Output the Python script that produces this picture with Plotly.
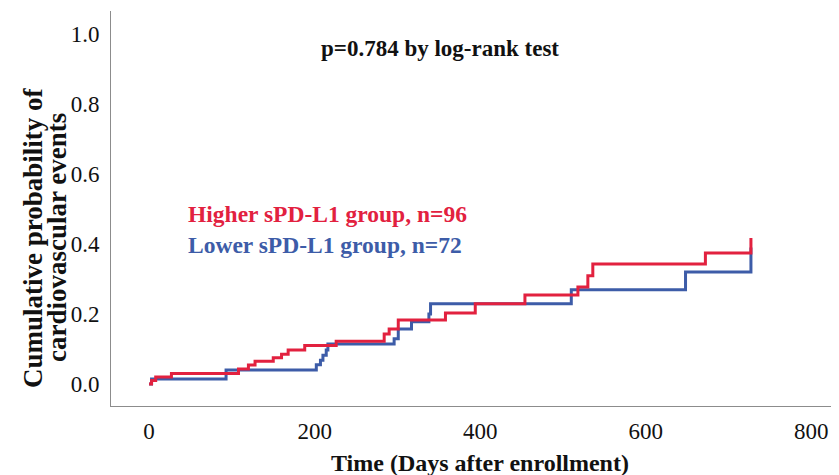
import plotly.graph_objects as go

# Data (Kaplan-Meier cumulative incidence, step curves)
higher_days = [0, 3, 8, 27, 108, 120, 128, 150, 160, 168, 188, 226, 284, 290, 301, 358, 394, 454, 518, 530, 536, 672, 727]
higher_prob = [0, 0.010, 0.020, 0.030, 0.043, 0.054, 0.065, 0.075, 0.085, 0.097, 0.110, 0.122, 0.143, 0.157, 0.183, 0.203, 0.229, 0.254, 0.277, 0.309, 0.343, 0.374, 0.417]

lower_days = [0, 3, 93, 202, 207, 210, 214, 216, 296, 301, 317, 338, 340, 510, 648, 727]
lower_prob = [0, 0.014, 0.040, 0.055, 0.068, 0.082, 0.097, 0.114, 0.129, 0.157, 0.178, 0.200, 0.229, 0.269, 0.320, 0.390]

x_ticks = [0, 200, 400, 600, 800]
y_ticks = [0.0, 0.2, 0.4, 0.6, 0.8, 1.0]

group_labels = ["Higher sPD-L1 group, n=96", "Lower sPD-L1 group, n=72"]
y_title_lines = ["Cumulative probability of", "cardiovascular events"]

RED = "#e2213f"
BLUE = "#3d5ca8"
INK = "#111111"
FONT = "Liberation Serif"

W, H = 839, 475
ML, MR, MT, MB = 103, 0, 3, 77

fig = go.Figure()
fig.add_trace(go.Scatter(x=lower_days, y=lower_prob, mode="lines", line_shape="hv",
                         line=dict(color=BLUE, width=3), showlegend=False))
fig.add_trace(go.Scatter(x=higher_days, y=higher_prob, mode="lines", line_shape="hv",
                         line=dict(color=RED, width=3), showlegend=False))

fig.update_layout(
    width=W, height=H,
    margin=dict(l=ML, r=MR, t=MT, b=MB),
    paper_bgcolor="white", plot_bgcolor="white",
    font=dict(family=FONT, color=INK),
    xaxis=dict(range=[-46, 837 + 5 / 0.8275], tickvals=x_ticks, ticktext=[str(v) for v in x_ticks],
               showgrid=False, zeroline=False, showline=True, linecolor="#8c8c8c", linewidth=1,
               ticks="", ticklabelstandoff=4, tickfont=dict(size=23, family=FONT, color=INK)),
    yaxis=dict(range=[-0.063, 1.066], tickvals=y_ticks, ticktext=[f"{v:.1f}" for v in y_ticks],
               showgrid=False, zeroline=False, showline=True, linecolor="#8c8c8c", linewidth=1,
               ticks="", ticklabelstandoff=6, tickfont=dict(size=23, family=FONT, color=INK)),
)

plot_w = W - ML - MR
plot_h = H - MT - MB


def px(x, y):
    return (x - ML) / plot_w, (H - MB - y) / plot_h


annos = []
# p-value text
annos.append(dict(x=352, y=0.96, xref="x", yref="y", text="<b>p=0.784 by log-rank test</b>",
                  xanchor="center", yanchor="middle",
                  showarrow=False, font=dict(size=23, family=FONT, color=INK)))
# group labels (one block, two coloured lines)
legend_text = (f"<b><span style='color:{RED}'>{group_labels[0]}</span><br>"
               f"<span style='color:{BLUE}'>{group_labels[1]}</span></b>")
annos.append(dict(x=45, y=0.442, xref="x", yref="y", text=legend_text,
                  xanchor="left", yanchor="middle", align="left",
                  showarrow=False, font=dict(size=23.5, family=FONT, color=INK)))
# x title
x0, y0 = px(472, 455)
annos.append(dict(x=x0, y=y0, xref="paper", yref="paper", text="<b>Time (Days after enrollment)</b>",
                  xanchor="center", yanchor="middle",
                  showarrow=False, font=dict(size=24, family=FONT, color=INK)))
# y title (two rotated lines, tightly packed)
for xp, line in zip([25, 49], y_title_lines):
    xa, ya = px(xp, 230)
    annos.append(dict(x=xa, y=ya, xref="paper", yref="paper", text=f"<b>{line}</b>", textangle=-90,
                      xanchor="center", yanchor="middle",
                      showarrow=False, font=dict(size=27, family=FONT, color=INK)))
fig.update_layout(annotations=annos)

fig.write_html("out.html")
